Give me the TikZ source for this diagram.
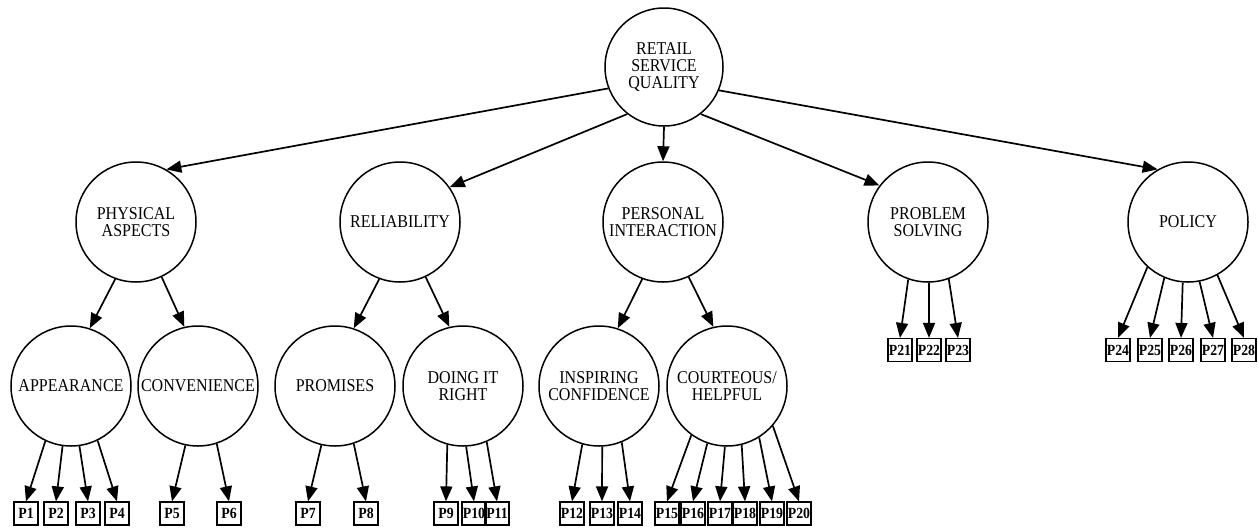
\documentclass[tikz,border=0pt]{standalone}
\usepackage{fontspec}
\setmainfont{Liberation Serif}[FakeStretch=0.89]
\usetikzlibrary{arrows.meta}
\tikzset{
  concept/.style={circle,draw,line width=1.5pt,minimum size=120pt,inner sep=0pt,align=center,font=\fontsize{18}{17}\selectfont},
  rootc/.style={concept,minimum size=118pt},
  item/.style={rectangle,draw,line width=1.2pt,minimum width=24pt,minimum height=23pt,inner sep=0.5pt,font=\fontsize{15.5}{15.5}\selectfont\bfseries},
  arr/.style={line width=1.7pt,-{Triangle[length=15pt,width=12pt]}}
}
\begin{document}
\begin{tikzpicture}[x=1pt,y=-1pt]
\useasboundingbox (0,0) rectangle (1258,528);
% root
\node[rootc] (top) at (664,67) {RETAIL\\SERVICE\\QUALITY};
% level 2
\node[concept] (phys) at (136,222) {PHYSICAL\\ASPECTS};
\node[concept] (rel) at (400,222) {RELIABILITY};
\node[concept] (pers) at (663,222) {PERSONAL\\INTERACTION};
\node[concept] (prob) at (928,222) {PROBLEM\\SOLVING};
\node[concept] (pol) at (1188,222) {POLICY};
% level 3
\node[concept] (app) at (71,386) {APPEARANCE};
\node[concept] (conv) at (198,386) {CONVENIENCE};
\node[concept] (prom) at (335,386) {PROMISES};
\node[concept] (dir) at (463,386) {DOING IT\\RIGHT};
\node[concept] (insp) at (599,386) {INSPIRING\\CONFIDENCE};
\node[concept] (cour) at (727,386) {COURTEOUS/\\HELPFUL};
% items bottom row
\foreach \n/\x in {1/26,2/56,3/88,4/117,5/172,6/229,7/308,8/366,9/446,10/474,11/497,12/572,13/602,14/630,15/667,16/693,17/720,18/745,19/772,20/799}
  \node[item] (p\n) at (\x,513.5) {P\n};
\foreach \n/\x in {21/900,22/929,23/958,24/1118,25/1150,26/1181,27/1213,28/1244}
  \node[item] (p\n) at (\x,350) {P\n};
% root arrows
\draw[arr] (top.201) -- (phys.60);
\draw[arr] (top.232) -- (rel.35);
\draw[arr] (top.270) -- (pers.90);
\draw[arr] (top.308) -- (prob.143);
\draw[arr] (top.337) -- (pol.120);
% level 2 -> 3
\draw[arr] (phys.250) -- (app.72);
\draw[arr] (phys.295) -- (conv.103);
\draw[arr] (rel.250) -- (prom.72);
\draw[arr] (rel.295) -- (dir.103);
\draw[arr] (pers.250) -- (insp.72);
\draw[arr] (pers.295) -- (cour.103);
% to items
\draw[arr] (app.245) -- (p1.north);
\draw[arr] (app.262) -- (p2.north);
\draw[arr] (app.278) -- (p3.north);
\draw[arr] (app.296) -- (p4.north);
\draw[arr] (conv.258) -- (p5.north);
\draw[arr] (conv.288) -- (p6.north);
\draw[arr] (prom.257) -- (p7.north);
\draw[arr] (prom.288) -- (p8.north);
\draw[arr] (dir.255) -- (p9.north);
\draw[arr] (dir.273) -- (p10.north);
\draw[arr] (dir.293) -- (p11.north);
\draw[arr] (insp.254) -- (p12.north);
\draw[arr] (insp.273) -- (p13.north);
\draw[arr] (insp.292) -- (p14.north);
\draw[arr] (cour.234) -- (p15.north);
\draw[arr] (cour.251) -- (p16.north);
\draw[arr] (cour.268) -- (p17.north);
\draw[arr] (cour.284) -- (p18.north);
\draw[arr] (cour.302) -- (p19.north);
\draw[arr] (cour.319) -- (p20.north);
\draw[arr] (prob.251) -- (p21.north);
\draw[arr] (prob.271) -- (p22.north);
\draw[arr] (prob.290) -- (p23.north);
\draw[arr] (pol.228) -- (p24.north);
\draw[arr] (pol.247) -- (p25.north);
\draw[arr] (pol.265) -- (p26.north);
\draw[arr] (pol.281) -- (p27.north);
\draw[arr] (pol.299) -- (p28.north);
\end{tikzpicture}
\end{document}
